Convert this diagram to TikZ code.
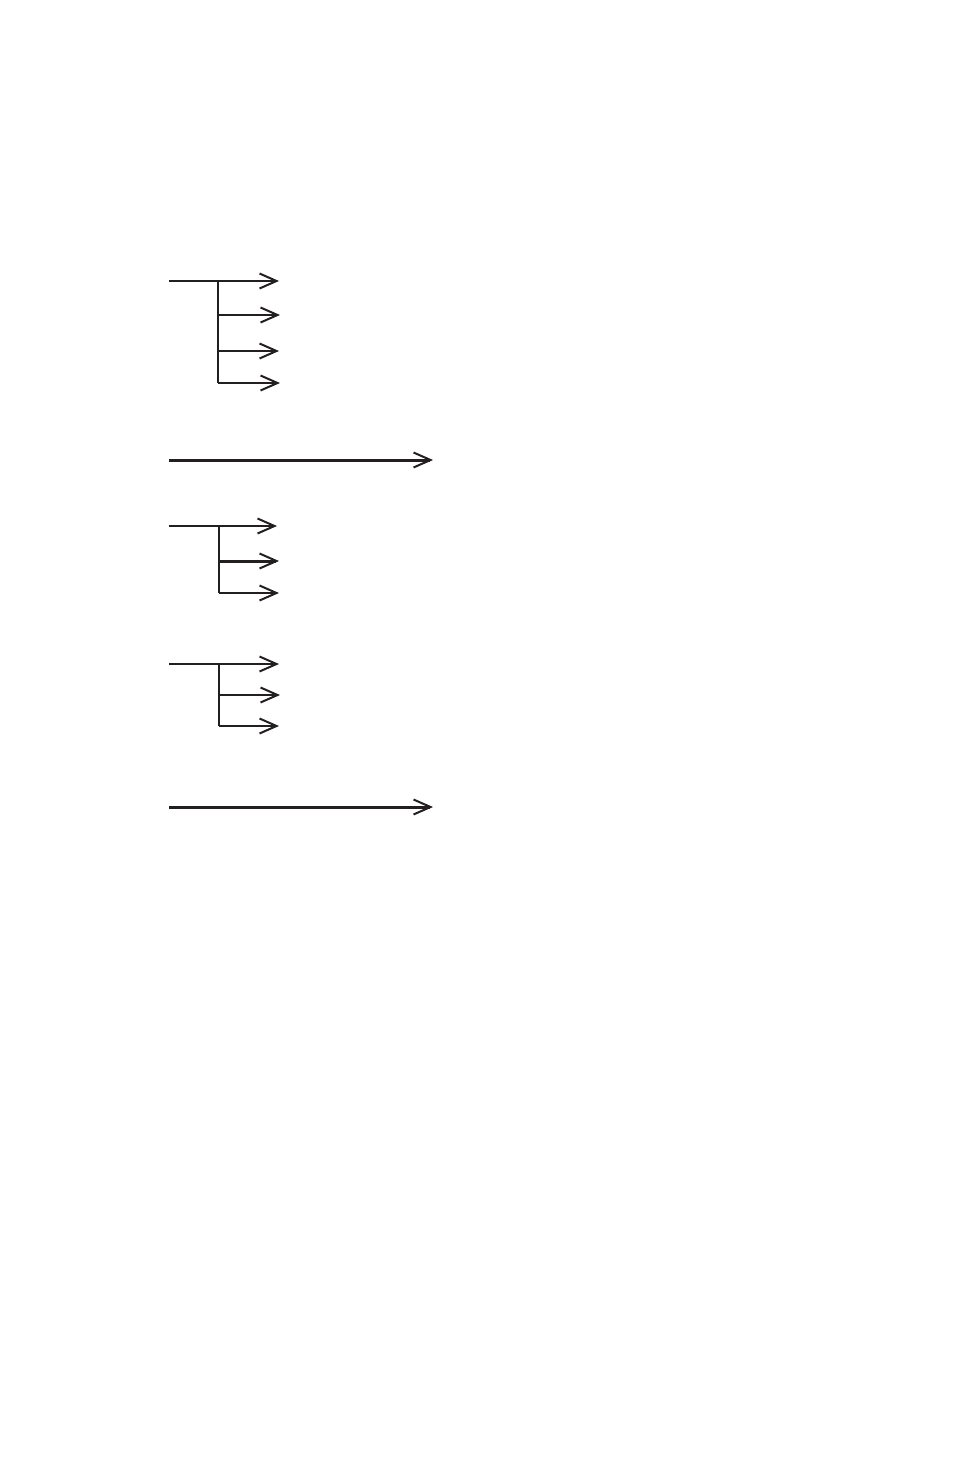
\documentclass[tikz,border=0pt]{standalone}
\usetikzlibrary{arrows.meta}
\definecolor{ink}{RGB}{35,31,32}
\tikzset{
  thin line/.style={draw=ink, line width=2pt},
  thick line/.style={draw=ink, line width=3pt},
  barb/.style={-{Straight Barb[length=17pt,width=15pt,line width=2pt]}},
}
\begin{document}
\begin{tikzpicture}[x=1pt,y=-1pt]
\useasboundingbox (0,0) rectangle (954,1474);
% group 1
\coordinate (a0) at (169,281);
\coordinate (aj) at (218,281);
\coordinate (a1) at (279,281);
\coordinate (b0) at (218,315);
\coordinate (b1) at (280,315);
\coordinate (c0) at (218,351);
\coordinate (c1) at (279,351);
\coordinate (d0) at (218,383);
\coordinate (d1) at (280,383);
\draw[thin line, barb] (a0) -- (a1);
\draw[thin line] (aj) -- (d0);
\draw[thin line, barb] (b0) -- (b1);
\draw[thin line, barb] (c0) -- (c1);
\draw[thin line, barb] (d0) -- (d1);
% long arrow 1
\coordinate (l1a) at (169,460);
\coordinate (l1b) at (433,460);
\draw[thick line, barb] (l1a) -- (l1b);
% group 2
\coordinate (e0) at (169,526);
\coordinate (ej) at (219,526);
\coordinate (e1) at (277,526);
\coordinate (f0) at (219,561);
\coordinate (f1) at (279,561);
\coordinate (g0) at (219,593);
\coordinate (g1) at (279,593);
\draw[thin line, barb] (e0) -- (e1);
\draw[thin line] (ej) -- (g0);
\draw[thick line, barb] (f0) -- (f1);
\draw[thin line, barb] (g0) -- (g1);
% group 3
\coordinate (h0) at (169,664);
\coordinate (hj) at (219,664);
\coordinate (h1) at (279,664);
\coordinate (i0) at (219,695);
\coordinate (i1) at (280,695);
\coordinate (k0) at (219,726);
\coordinate (k1) at (279,726);
\draw[thin line, barb] (h0) -- (h1);
\draw[thin line] (hj) -- (k0);
\draw[thin line, barb] (i0) -- (i1);
\draw[thin line, barb] (k0) -- (k1);
% long arrow 2
\coordinate (l2a) at (169,807);
\coordinate (l2b) at (433,807);
\draw[thick line, barb] (l2a) -- (l2b);
\end{tikzpicture}
\end{document}
